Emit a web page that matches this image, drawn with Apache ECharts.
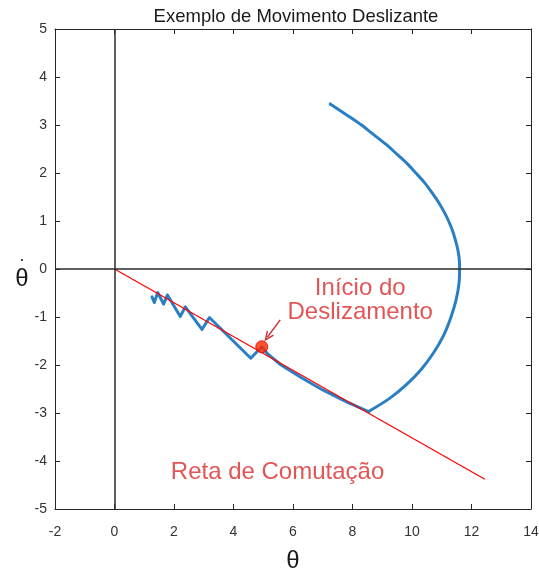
<!DOCTYPE html>
<html>
<head>
<meta charset="utf-8">
<script src="https://cdn.jsdelivr.net/npm/echarts@6/dist/echarts.min.js"></script>
<style>
  html, body { margin: 0; padding: 0; background: #fff; }
  #chart { width: 539px; height: 571px; }
</style>
</head>
<body>
<div id="chart"></div>
<script>
// Reaching phase: curved arc from the initial state down to the switching line
const arcTheta = [7.25, 7.83, 8.30, 8.71, 9.12, 9.48, 9.83, 10.13, 10.42, 10.66, 10.88, 11.07, 11.23, 11.36, 11.46, 11.54, 11.59, 11.60,
                  11.58, 11.48, 11.30, 11.05, 10.72, 10.30, 9.83, 9.26, 8.54];
const arcOmega = [3.44, 3.20, 3.00, 2.80, 2.60, 2.40, 2.20, 2.00, 1.80, 1.60, 1.40, 1.20, 1.00, 0.80, 0.60, 0.40, 0.20, 0.00,
                  -0.30, -0.65, -1.02, -1.40, -1.75, -2.10, -2.40, -2.69, -2.97];

// Sliding phase along the line, then chattering near the origin
const slideTheta = [8.54, 7.80, 7.00, 6.30, 5.60, 5.15, 4.95, 4.58, 3.19, 2.94, 2.38, 2.21, 1.78, 1.65, 1.45, 1.34, 1.26];
const slideOmega = [-2.97, -2.77, -2.52, -2.27, -2.00, -1.77, -1.62, -1.86, -1.01, -1.26, -0.79, -0.99, -0.54, -0.73, -0.49, -0.70, -0.58];

// Switching line s = 0
const switchTheta = [0, 12.45];
const switchOmega = [0, -4.38];

// Start of sliding
const slideStart = [4.95, -1.62];

// Axis ticks
const xTicks = [-2, 0, 2, 4, 6, 8, 10, 12, 14];
const yTicks = [-5, -4, -3, -2, -1, 0, 1, 2, 3, 4, 5];

// Annotation anchors (data coordinates)
const arrowFrom = [5.57, -1.06];
const arrowTo = [5.14, -1.42];
const slideLabelPos = [8.26, -0.66];
const lineLabelPos = [5.48, -4.23];

const frameColor = '#262626';
const textRed = '#d92a2a';
const blue = '#2a7fc4';
const font = 'Liberation Sans, Arial, sans-serif';

const chart = echarts.init(document.getElementById('chart'), null, { renderer: 'canvas' });

const zip = (a, b) => a.map((v, i) => [v, b[i]]);

const xBase = {
  type: 'value',
  min: xTicks[0],
  max: xTicks[xTicks.length - 1],
  interval: xTicks[1] - xTicks[0],
  splitLine: { show: false },
  axisLine: { show: true, onZero: false, lineStyle: { color: frameColor, width: 1 } },
  axisTick: { show: true, inside: true, length: 5, lineStyle: { color: frameColor } }
};
const yBase = {
  type: 'value',
  min: yTicks[0],
  max: yTicks[yTicks.length - 1],
  interval: yTicks[1] - yTicks[0],
  splitLine: { show: false },
  axisLine: { show: true, onZero: false, lineStyle: { color: frameColor, width: 1 } },
  axisTick: { show: true, inside: true, length: 5, lineStyle: { color: frameColor } }
};

const option = {
  backgroundColor: '#ffffff',
  animation: false,
  title: {
    text: 'Exemplo de Movimento Deslizante',
    left: 291,
    top: 2,
    textAlign: 'center',
    textStyle: { fontFamily: font, fontSize: 18.5, fontWeight: 'normal', color: '#1a1a1a' }
  },
  grid: { left: 55, right: 8, top: 29, bottom: 62, containLabel: false, outerBoundsMode: 'none' },
  xAxis: [
    Object.assign({}, xBase, {
      position: 'bottom',
      name: 'θ',
      nameLocation: 'middle',
      nameGap: 40,
      nameTextStyle: { fontFamily: font, fontSize: 24, color: '#1a1a1a' },
      axisLabel: { show: true, margin: 16, fontSize: 14, color: '#333', fontFamily: font }
    }),
    Object.assign({}, xBase, { position: 'top', axisLabel: { show: false } })
  ],
  yAxis: [
    Object.assign({}, yBase, {
      position: 'left',
      name: '{d|•}\n{t|θ}',
      nameLocation: 'middle',
      nameRotate: 0,
      nameGap: 32,
      nameTextStyle: {
        fontFamily: font,
        color: '#1a1a1a',
        align: 'center',
        padding: [6, 0, 0, 0],
        rich: {
          d: { fontFamily: font, fontSize: 8, lineHeight: 14, color: '#1a1a1a', align: 'center' },
          t: { fontFamily: font, fontSize: 24, lineHeight: 24, color: '#1a1a1a', align: 'center' }
        }
      },
      axisLabel: { show: true, margin: 8, fontSize: 14, color: '#333', fontFamily: font }
    }),
    Object.assign({}, yBase, { position: 'right', axisLabel: { show: false } })
  ],
  series: [
    {
      // zero axes through the origin
      type: 'line',
      data: [],
      silent: true,
      markLine: {
        silent: true,
        symbol: ['none', 'none'],
        label: { show: false },
        lineStyle: { color: '#2b2b2b', width: 1.5, type: 'solid' },
        data: [{ xAxis: 0 }, { yAxis: 0 }]
      }
    },
    {
      name: 'Reta de Comutação',
      type: 'line',
      data: zip(switchTheta, switchOmega),
      showSymbol: false,
      lineStyle: { color: '#ff0000', width: 1.2 },
      z: 3
    },
    {
      name: 'Aproximação',
      type: 'line',
      data: zip(arcTheta, arcOmega),
      showSymbol: false,
      smooth: 0.3,
      lineStyle: { color: blue, width: 3, join: 'round', cap: 'round' },
      z: 2
    },
    {
      name: 'Deslizamento',
      type: 'line',
      data: zip(slideTheta, slideOmega),
      showSymbol: false,
      smooth: false,
      lineStyle: { color: blue, width: 3, join: 'round', cap: 'round' },
      z: 2
    },
    {
      name: 'Início do Deslizamento',
      type: 'scatter',
      data: [slideStart],
      symbol: 'circle',
      symbolSize: 12,
      itemStyle: { color: '#ff2a00', borderColor: '#e00000', borderWidth: 1 },
      z: 5,
      markLine: {
        silent: true,
        symbol: ['none', 'path://M0,10 L5,0 L10,10 L8.2,10 L5,3.6 L1.8,10 Z'],
        symbolSize: [9, 10],
        label: { show: false },
        lineStyle: { color: '#c83232', width: 1.5, type: 'solid' },
        data: [[{ coord: arrowFrom }, { coord: arrowTo }]]
      }
    },
    {
      type: 'scatter',
      silent: true,
      symbolSize: 0,
      data: [
        { value: slideLabelPos, label: { formatter: 'Início do\nDeslizamento' } },
        { value: lineLabelPos, label: { formatter: 'Reta de Comutação' } }
      ],
      label: {
        show: true,
        position: 'inside',
        align: 'center',
        verticalAlign: 'middle',
        fontFamily: font,
        fontSize: 24,
        lineHeight: 24,
        color: textRed
      },
      z: 6
    }
  ]
};

chart.setOption(option);
</script>
</body>
</html>
